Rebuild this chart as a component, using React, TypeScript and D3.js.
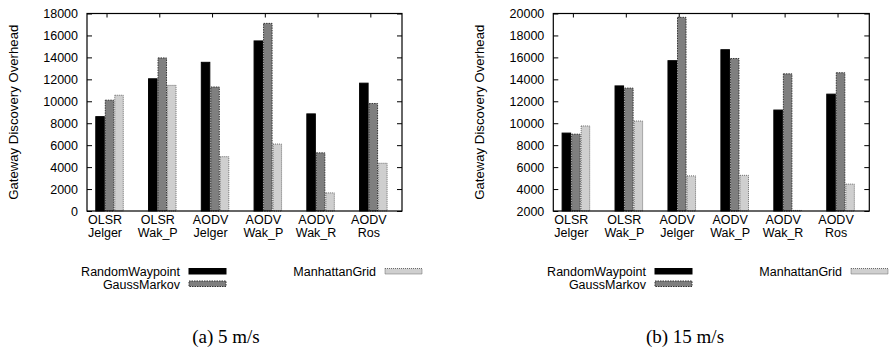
import React, { useEffect, useRef } from 'react';
import * as d3 from 'd3';

const width = 889;
const height = 360;

const categories = [
  ['OLSR', 'Jelger'],
  ['OLSR', 'Wak_P'],
  ['AODV', 'Jelger'],
  ['AODV', 'Wak_P'],
  ['AODV', 'Wak_R'],
  ['AODV', 'Ros'],
];
const seriesNames = ['RandomWaypoint', 'GaussMarkov', 'ManhattanGrid'];

// (a) 5 m/s
const randomWaypoint5 = [8600, 12050, 13550, 15500, 8850, 11650];
const gaussMarkov5 = [10100, 13950, 11300, 17100, 5300, 9800];
const manhattanGrid5 = [10550, 11450, 4950, 6100, 1650, 4350];

// (b) 15 m/s
const randomWaypoint15 = [9100, 13400, 15700, 16700, 11200, 12650];
const gaussMarkov15 = [9000, 13200, 19650, 15900, 14500, 14600];
const manhattanGrid15 = [9750, 10200, 5200, 5250, 2050, 4450];

const ticks5 = [0, 2000, 4000, 6000, 8000, 10000, 12000, 14000, 16000, 18000];
const ticks15 = [2000, 4000, 6000, 8000, 10000, 12000, 14000, 16000, 18000, 20000];

const yTitle = 'Gateway Discovery Overhead';
const captions = ['(a) 5 m/s', '(b) 15 m/s'];

const barStyle = [
  { fill: '#000000', stroke: '#000000', dash: null },
  { fill: '#7f7f7f', stroke: '#333333', dash: '1.5,1' },
  { fill: '#cfcfcf', stroke: '#6a6a6a', dash: '1,1' },
];

const font = 'Liberation Sans, Arial, sans-serif';

function drawPanel(svg, opts) {
  const { left, right, top, bottom, yDomain, ticks, values, dx, caption, captionX } = opts;
  const g = svg.append('g');
  const x = d3.scaleLinear([-0.37, 5.6], [left, right]);
  const y = d3.scaleLinear(yDomain, [bottom, top]);
  const inner = d3.scaleBand(seriesNames, [-0.213, 0.327]);
  const bw = x(inner.bandwidth()) - x(0);

  // bars
  seriesNames.forEach((s, j) => {
    g.append('g')
      .selectAll('rect')
      .data(values[j])
      .join('rect')
      .attr('x', (d, i) => x(i + inner(s)) + 0.5)
      .attr('width', bw - 1)
      .attr('y', d => y(d))
      .attr('height', d => Math.max(0, y(yDomain[0]) - y(d)))
      .attr('fill', barStyle[j].fill)
      .attr('stroke', barStyle[j].stroke)
      .attr('stroke-width', 1)
      .attr('stroke-dasharray', barStyle[j].dash);
  });

  // frame
  g.append('rect')
    .attr('x', left).attr('y', top)
    .attr('width', right - left).attr('height', bottom - top)
    .attr('fill', 'none').attr('stroke', '#000').attr('stroke-width', 1.2);

  // y axis ticks (inner, mirrored)
  const yAxisL = d3.axisLeft(y).tickValues(ticks).tickSize(-5).tickPadding(9).tickFormat(d3.format('d'));
  g.append('g')
    .attr('transform', `translate(${left},0)`)
    .call(yAxisL)
    .call(a => a.select('.domain').remove())
    .call(a => a.selectAll('text').attr('font-family', font).attr('font-size', 12.5).attr('fill', '#000'));
  const yAxisR = d3.axisRight(y).tickValues(ticks).tickSize(-5).tickFormat(() => '');
  g.append('g')
    .attr('transform', `translate(${right},0)`)
    .call(yAxisR)
    .call(a => a.select('.domain').remove());

  // x ticks at top (mirrored)
  const xAxisT = d3.axisTop(x).tickValues(d3.range(categories.length)).tickSize(-4).tickFormat(() => '');
  g.append('g')
    .attr('transform', `translate(0,${top})`)
    .call(xAxisT)
    .call(a => a.select('.domain').remove());

  // category labels
  const lab = g.append('g')
    .selectAll('text')
    .data(categories)
    .join('text')
    .attr('font-family', font)
    .attr('font-size', 12.5)
    .attr('text-anchor', 'middle');
  lab.append('tspan').attr('x', (d, i) => x(i) - 1.5).attr('y', bottom + 13).text(d => d[0]);
  lab.append('tspan').attr('x', (d, i) => x(i) - 1.5).attr('y', bottom + 26).text(d => d[1]);

  // y title
  g.append('text')
    .attr('transform', `translate(${dx + 18},${(top + bottom) / 2}) rotate(-90)`)
    .attr('text-anchor', 'middle')
    .attr('font-family', font)
    .attr('font-size', 13.2)
    .text(yTitle);

  // legend
  const legend = [
    { name: seriesNames[0], sx: dx + 189, sy: 268.5, j: 0 },
    { name: seriesNames[1], sx: dx + 189, sy: 281, j: 1 },
    { name: seriesNames[2], sx: dx + 385, sy: 268.5, j: 2 },
  ];
  legend.forEach(l => {
    g.append('text')
      .attr('x', l.sx - 9)
      .attr('y', l.sy + 7.5)
      .attr('text-anchor', 'end')
      .attr('font-family', font)
      .attr('font-size', 12.5)
      .text(l.name);
    g.append('rect')
      .attr('x', l.sx).attr('y', l.sy)
      .attr('width', 37).attr('height', 5.5)
      .attr('fill', barStyle[l.j].fill)
      .attr('stroke', barStyle[l.j].stroke)
      .attr('stroke-dasharray', barStyle[l.j].dash);
  });

  // caption
  g.append('text')
    .attr('x', captionX)
    .attr('y', 343)
    .attr('text-anchor', 'middle')
    .attr('font-family', 'Liberation Serif, Times New Roman, serif')
    .attr('font-size', 19)
    .text(caption);
}

export default function App() {
  const ref = useRef(null);
  useEffect(() => {
    const svg = d3.select(ref.current);
    svg.selectAll('*').remove();
    svg.append('rect').attr('width', width).attr('height', height).attr('fill', '#fff');
    drawPanel(svg, {
      left: 87, right: 402, top: 13.5, bottom: 211,
      yDomain: [0, 18000], ticks: ticks5,
      values: [randomWaypoint5, gaussMarkov5, manhattanGrid5],
      dx: 0, caption: captions[0], captionX: 226,
    });
    drawPanel(svg, {
      left: 553.3, right: 869.3, top: 13.5, bottom: 211,
      yDomain: [2000, 20000], ticks: ticks15,
      values: [randomWaypoint15, gaussMarkov15, manhattanGrid15],
      dx: 466, caption: captions[1], captionX: 685,
    });
  }, []);
  return (
    <svg ref={ref} width={width} height={height}
      style={{ position: 'absolute', left: 0, top: 0, display: 'block' }} />
  );
}
